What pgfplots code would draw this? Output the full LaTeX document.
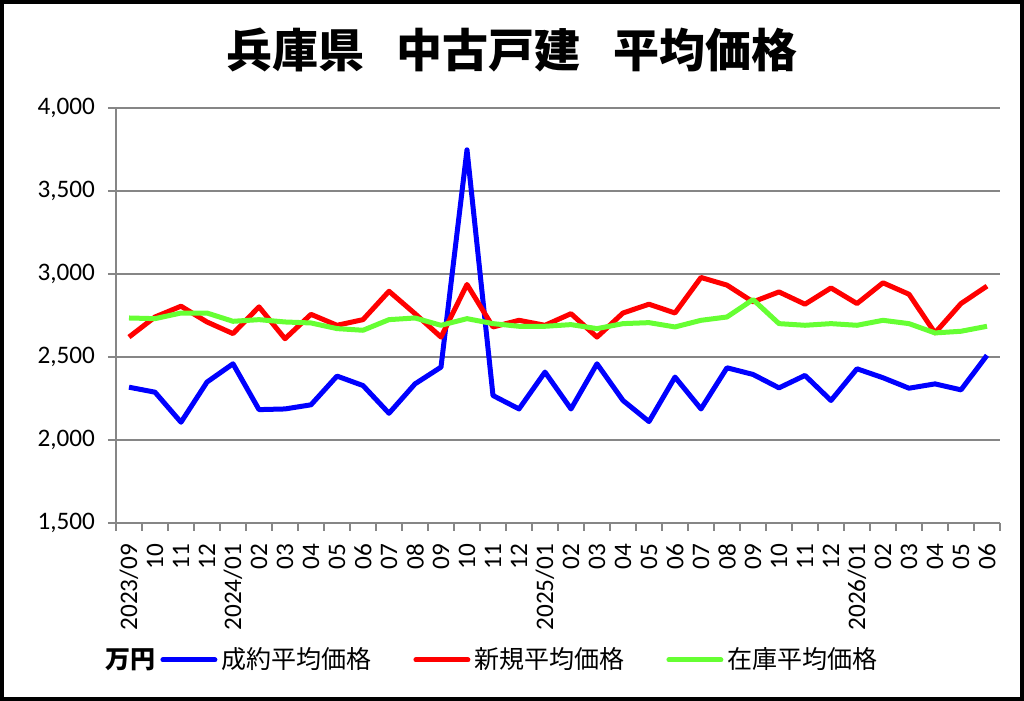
\documentclass[border=0pt]{standalone}
\usepackage{pgfplots}
\pgfplotsset{compat=1.18}
\usepackage{fontspec}
\setmainfont{Carlito}
\newfontfamily\jp{Noto Sans CJK JP}
\definecolor{cblue}{RGB}{0,0,255}
\definecolor{cred}{RGB}{255,0,0}
\definecolor{cgreen}{RGB}{102,255,51}
\definecolor{gridgray}{RGB}{134,134,134}
\begin{document}
\begin{tikzpicture}
\path[use as bounding box] (0,0) rectangle (512pt,350.5pt);
\draw[line width=1.8pt] (0.9pt,0.9pt) rectangle (511.1pt,349.6pt);
\node[font=\jp\bfseries\fontsize{23}{27}\selectfont] at (256pt,325.5pt) {兵庫県\hspace{0.7em}中古戸建\hspace{0.7em}平均価格};
\begin{axis}[
  at={(58pt,89pt)}, anchor=south west,
  scale only axis, width=442pt, height=207.5pt,
  xmin=-0.5, xmax=33.5, ymin=1500, ymax=4000,
  axis x line*=bottom, axis y line*=left,
  axis line style={gridgray, line width=0.75pt},
  ytick={1500,2000,...,4000},
  ymajorgrids, grid style={gridgray, line width=0.75pt},
  xtick={0,...,33},
  xticklabels={2023/09,10,11,12,2024/01,02,03,04,05,06,07,08,09,10,11,12,2025/01,02,03,04,05,06,07,08,09,10,11,12,2026/01,02,03,04,05,06},
  minor xtick={-0.5,0.5,...,33.5},
  major x tick style={draw=none},
  minor x tick style={gridgray, line width=0.75pt},
  major y tick style={gridgray, line width=0.75pt},
  tick align=outside, major tick length=4pt, minor tick length=4pt,
  tick label style={font=\fontsize{12.6}{15}\selectfont},
  xticklabel style={rotate=90, anchor=east},
  /pgf/number format/.cd, 1000 sep={,}, assume math mode=true, /pgfplots/.cd,
  xticklabel shift=3pt, yticklabel shift=3pt,
  legend columns=3,
  legend style={at={(rel axis cs:0.0498,-0.33)}, anchor=west, draw=none, fill=none, inner sep=0pt,
    font=\jp\fontsize{12.5}{15}\selectfont,
    /tikz/every even column/.append style={column sep=19pt}},
  legend image code/.code={\draw[#1, line width=2.5pt, line cap=round] (0pt,0pt) -- (26pt,0pt);},
  every axis plot/.append style={line width=2.5pt, line join=round},
  clip=false,
]
\addplot[cblue, mark=none] coordinates {
(0,2318)(1,2288)(2,2107)(3,2349)(4,2459)(5,2183)(6,2187)(7,2212)(8,2385)(9,2328)(10,2161)(11,2338)(12,2439)(13,3748)(14,2268)(15,2187)(16,2409)(17,2187)(18,2459)(19,2238)(20,2111)(21,2379)(22,2187)(23,2435)(24,2395)(25,2314)(26,2389)(27,2238)(28,2429)(29,2375)(30,2312)(31,2338)(32,2302)(33,2510)};
\addlegendentry{成約平均価格}
\addplot[cred, mark=none] coordinates {
(0,2620)(1,2741)(2,2806)(3,2711)(4,2641)(5,2802)(6,2610)(7,2757)(8,2691)(9,2725)(10,2896)(11,2761)(12,2620)(13,2937)(14,2681)(15,2721)(16,2691)(17,2761)(18,2620)(19,2765)(20,2818)(21,2765)(22,2979)(23,2933)(24,2832)(25,2892)(26,2818)(27,2916)(28,2822)(29,2947)(30,2878)(31,2645)(32,2822)(33,2927)};
\addlegendentry{新規平均価格}
\addplot[cgreen, mark=none] coordinates {
(0,2735)(1,2731)(2,2765)(3,2765)(4,2715)(5,2725)(6,2711)(7,2705)(8,2671)(9,2661)(10,2725)(11,2735)(12,2691)(13,2731)(14,2701)(15,2685)(16,2685)(17,2695)(18,2671)(19,2701)(20,2707)(21,2681)(22,2721)(23,2741)(24,2846)(25,2701)(26,2691)(27,2701)(28,2691)(29,2721)(30,2701)(31,2645)(32,2655)(33,2685)};
\addlegendentry{在庫平均価格}
\node[anchor=east, font=\jp\bfseries\fontsize{12.5}{15}\selectfont, inner sep=0pt] at (rel axis cs:0.045,-0.33) {万円};
\end{axis}
\end{tikzpicture}
\end{document}
